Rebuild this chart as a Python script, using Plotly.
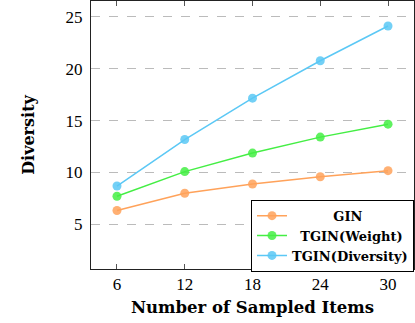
import plotly.graph_objects as go

# sampled item counts on the x axis
sampled_items = [6, 12, 18, 24, 30]

# diversity per method
gin = [6.32, 7.98, 8.88, 9.58, 10.16]
tgin_weight = [7.69, 10.07, 11.86, 13.40, 14.65]
tgin_diversity = [8.68, 13.17, 17.16, 20.77, 24.13]

series_names = ["GIN", "TGIN(Weight)", "TGIN(Diversity)"]
series_colors = ["#FFA25A", "#44EE44", "#5BC8F5"]
legend_pad = ["\u00a0" * 10, "\u00a0" * 2, ""]

fig = go.Figure()
for vals, name, color, pad in zip([gin, tgin_weight, tgin_diversity],
                                  series_names, series_colors, legend_pad):
    fig.add_trace(go.Scatter(
        x=sampled_items, y=vals, mode="lines+markers",
        name=pad + "<b>" + name + "</b>",
        line=dict(color=color, width=1.5),
        marker=dict(color=color, size=9, opacity=0.85),
    ))

tick_font = "Liberation Serif, serif"
title_font = "DejaVu Serif, serif"

fig.update_layout(
    width=415, height=323,
    margin=dict(l=91, r=1, t=1, b=54),
    paper_bgcolor="white", plot_bgcolor="white",
    font=dict(family=tick_font, size=17, color="black"),
    showlegend=True,
    legend=dict(
        x=1, y=-0.01, xanchor="right", yanchor="bottom",
        bgcolor="white", bordercolor="black", borderwidth=1,
        font=dict(size=13, family=title_font),
        tracegroupgap=0, itemwidth=30,
        traceorder="normal",
    ),
    xaxis=dict(
        range=[3.7, 32.3],
        tickvals=sampled_items,
        ticks="inside", ticklen=5, tickcolor="#555",
        showline=True, linecolor="#222", linewidth=1, mirror="ticks",
        showgrid=False, zeroline=False,
        title=dict(text="<b>Number of Sampled Items</b>",
                   font=dict(size=16.5, family=title_font), standoff=8),
    ),
    yaxis=dict(
        range=[0.67, 26.54],
        tickvals=[5, 10, 15, 20, 25],
        ticks="", ticklabelstandoff=4,
        showline=True, linecolor="#222", linewidth=1, mirror=True,
        showgrid=True, gridcolor="#bbbbbb", griddash="dash", gridwidth=1,
        zeroline=False,
        title=dict(text="<b>Diversity</b>",
                   font=dict(size=16, family=title_font), standoff=26),
    ),
)

# page body has a default margin; drop it so the figure sits at the corner
fig.write_html("out.html", config={"displayModeBar": False},
               post_script="document.body.style.margin='0';")
